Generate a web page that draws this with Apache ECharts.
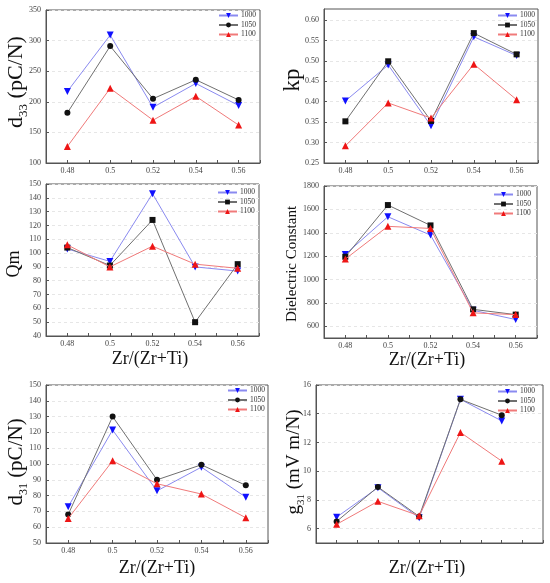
<!DOCTYPE html>
<html>
<head>
<meta charset="utf-8">
<script src="https://cdn.jsdelivr.net/npm/echarts@6/dist/echarts.min.js"></script>
<style>html,body{margin:0;padding:0;background:#fff}#c{width:550px;height:583px}</style>
</head>
<body>
<div id="c"></div>
<script>
// ---- data ----
const compositions = [0.48, 0.5, 0.52, 0.54, 0.56];
const temps = ['1000', '1050', '1100'];

const d33_1000 = [217, 309, 191, 230, 194];
const d33_1050 = [182, 291, 205, 236, 203];
const d33_1100 = [127, 222, 170, 209, 162];

const kp_1000 = [0.402, 0.490, 0.341, 0.559, 0.513];
const kp_1050 = [0.352, 0.499, 0.353, 0.568, 0.516];
const kp_1100 = [0.292, 0.397, 0.360, 0.492, 0.405];

const qm_1000 = [103, 94, 143, 90, 87];
const qm_1050 = [104, 91, 124, 50, 92];
const qm_1100 = [106, 90, 105, 92, 89];

const eps_1000 = [1215, 1537, 1380, 737, 658];
const eps_1050 = [1195, 1637, 1463, 745, 700];
const eps_1100 = [1175, 1455, 1437, 715, 700];

const d31_1000 = [73, 121.5, 83, 98, 79];
const d31_1050 = [68, 130, 90, 99.5, 86.5];
const d31_1100 = [65.5, 102, 87.5, 81, 66];

const g31_1000 = [6.8, 8.85, 6.75, 15.0, 13.5];
const g31_1050 = [6.5, 8.9, 6.85, 15.0, 13.9];
const g31_1100 = [6.3, 7.9, 6.9, 12.7, 10.7];

// tick labels
const d33Ticks = [100, 150, 200, 250, 300, 350];
const kpTicks = [0.25, 0.30, 0.35, 0.40, 0.45, 0.50, 0.55, 0.60];
const qmTicks = [40, 50, 60, 70, 80, 90, 100, 110, 120, 130, 140, 150];
const epsTicks = [600, 800, 1000, 1200, 1400, 1600, 1800];
const d31Ticks = [50, 60, 70, 80, 90, 100, 110, 120, 130, 140, 150];
const g31Ticks = [6, 8, 10, 12, 14, 16];
const xTickLabels = [0.48, 0.5, 0.52, 0.54, 0.56];

// ---- styling ----
const FONT = 'Liberation Serif';
const LINE_COLORS = ['#8a8af0', '#707070', '#f07a7a'];
const MARK_COLORS = ['#1010ff', '#111111', '#ee1515'];
const AX = '#555';

const panels = [
  {grid:{left:46, top:10, width:214, height:153}, y:{min:100, max:350, ticks:d33Ticks, fmt:v=>String(v)},
   x:{min:0.47, max:0.57, labels:true}, series:[d33_1000, d33_1050, d33_1100], mid:'circle',
   legend:{left:218, top:11.5}},
  {grid:{left:324, top:9, width:214, height:154}, y:{min:0.25, max:0.627, ticks:kpTicks, fmt:v=>v.toFixed(2)},
   x:{min:0.47, max:0.57, labels:true}, series:[kp_1000, kp_1050, kp_1100], mid:'rect',
   legend:{left:497, top:11.5}},
  {grid:{left:46, top:184, width:213, height:152}, y:{min:40, max:150, ticks:qmTicks, fmt:v=>String(v)},
   x:{min:0.47, max:0.57, labels:true}, series:[qm_1000, qm_1050, qm_1100], mid:'rect',
   legend:{left:217, top:188.5}},
  {grid:{left:324, top:186, width:213, height:152}, y:{min:500, max:1800, ticks:epsTicks, fmt:v=>String(v)},
   x:{min:0.47, max:0.57, labels:true}, series:[eps_1000, eps_1050, eps_1100], mid:'rect',
   legend:{left:493, top:190.5}},
  {grid:{left:46, top:385, width:222, height:158}, y:{min:50, max:150, ticks:d31Ticks, fmt:v=>String(v)},
   x:{min:0.47, max:0.57, labels:true}, series:[d31_1000, d31_1050, d31_1100], mid:'circle',
   legend:{left:227, top:386.5}},
  {grid:{left:316, top:385, width:227, height:158}, y:{min:5, max:16, ticks:g31Ticks, fmt:v=>String(v)},
   x:{min:0.47, max:0.58, labels:false}, series:[g31_1000, g31_1050, g31_1100], mid:'circle',
   legend:{left:497, top:387.5}}
];

const grid = [], xAxis = [], yAxis = [], series = [], legend = [];
panels.forEach((p, i) => {
  grid.push(Object.assign({show:true, borderColor:AX, borderWidth:1, backgroundColor:'transparent'}, p.grid));
  xAxis.push({
    type:'value', gridIndex:i, min:p.x.min, max:p.x.max, interval:0.01,
    axisLine:{show:true, onZero:false, lineStyle:{color:AX, width:1}},
    axisTick:{show:true, inside:true, length:3, lineStyle:{color:AX}},
    splitLine:{show:false},
    axisLabel:{show:p.x.labels, margin:4, fontSize:8, fontFamily:FONT, color:'#444',
      customValues: xTickLabels,
      formatter: v => String(Math.round(v*100)/100)}
  });
  yAxis.push({
    type:'value', gridIndex:i, min:p.y.min, max:p.y.max,
    axisLine:{show:true, onZero:false, lineStyle:{color:AX, width:1}},
    axisTick:{show:true, inside:true, length:3, lineStyle:{color:AX}, customValues:p.y.ticks},
    splitLine:{show:true, lineStyle:{color:'#e6e6e6', type:[3,3], width:1}},
    axisLabel:{margin:5, fontSize:8, fontFamily:FONT, color:'#444', customValues:p.y.ticks, formatter:p.y.fmt}
  });
  const syms = ['triangle', p.mid, 'triangle'];
  const rots = [180, 0, 0];
  const names = [];
  p.series.forEach((vals, k) => {
    const nm = temps[k] + '|' + i;
    names.push(nm);
    series.push({
      type:'line', name:nm, xAxisIndex:i, yAxisIndex:i,
      data: compositions.map((c, j) => [c, vals[j]]),
      symbol: syms[k], symbolRotate: rots[k], symbolSize: k===1 ? 6 : 7,
      lineStyle:{color:LINE_COLORS[k], width:1},
      itemStyle:{color:MARK_COLORS[k]},
      showSymbol:true, animation:false, z: 2 + k
    });
  });
  legend.push({
    orient:'vertical', left:p.legend.left, top:p.legend.top, padding:0,
    itemWidth:19, itemHeight:6, itemGap:1.5,
    data:names, formatter:n => n.split('|')[0],
    textStyle:{fontSize:7.5, fontFamily:FONT, color:'#333', padding:[0,0,0,-2]},
    selectedMode:false
  });
});

function ytitle(x, y, rich, text) {
  return {type:'text', x:x, y:y, rotation:Math.PI/2,
    style:{text:text, align:'center', verticalAlign:'middle', rich:rich, fill:'#111'}};
}
const richD = (main, sub) => ({
  a:{fontSize:main, fontFamily:FONT, color:'#111', lineHeight:main+2, verticalAlign:'bottom'},
  s:{fontSize:sub, fontFamily:FONT, color:'#111', verticalAlign:'bottom', padding:[0,0,-3,0], lineHeight:main+2}
});
function xtitle(x, y) {
  return {type:'text', x:x, y:y, style:{text:'Zr/(Zr+Ti)', align:'center', verticalAlign:'middle',
    fontSize:18, fontFamily:FONT, fill:'#111'}};
}

const graphic = [
  ytitle(15, 82, richD(22, 13), '{a|d}{s|33}{a| (pC/N)}'),
  {type:'text', x:293, y:80, rotation:Math.PI/2, style:{text:'kp', align:'center', verticalAlign:'middle', fontSize:23, fontFamily:FONT, fill:'#111'}},
  {type:'text', x:14, y:264, rotation:Math.PI/2, style:{text:'Qm', align:'center', verticalAlign:'middle', fontSize:18, fontFamily:FONT, fill:'#111'}},
  {type:'text', x:292, y:264, rotation:Math.PI/2, style:{text:'Dielectric Constant', align:'center', verticalAlign:'middle', fontSize:15, fontFamily:FONT, fill:'#111'}},
  ytitle(15, 462, richD(21, 12), '{a|d}{s|31}{a| (pC/N)}'),
  ytitle(293, 462, richD(19, 11), '{a|g}{s|31}{a| (mV m/N)}'),
  xtitle(150, 359), xtitle(427, 360), xtitle(157, 568), xtitle(427, 568)
];

const chart = echarts.init(document.getElementById('c'), null, {renderer:'canvas'});
chart.setOption({
  backgroundColor:'#fff', animation:false,
  grid, xAxis, yAxis, series, legend, graphic
});
</script>
</body>
</html>
